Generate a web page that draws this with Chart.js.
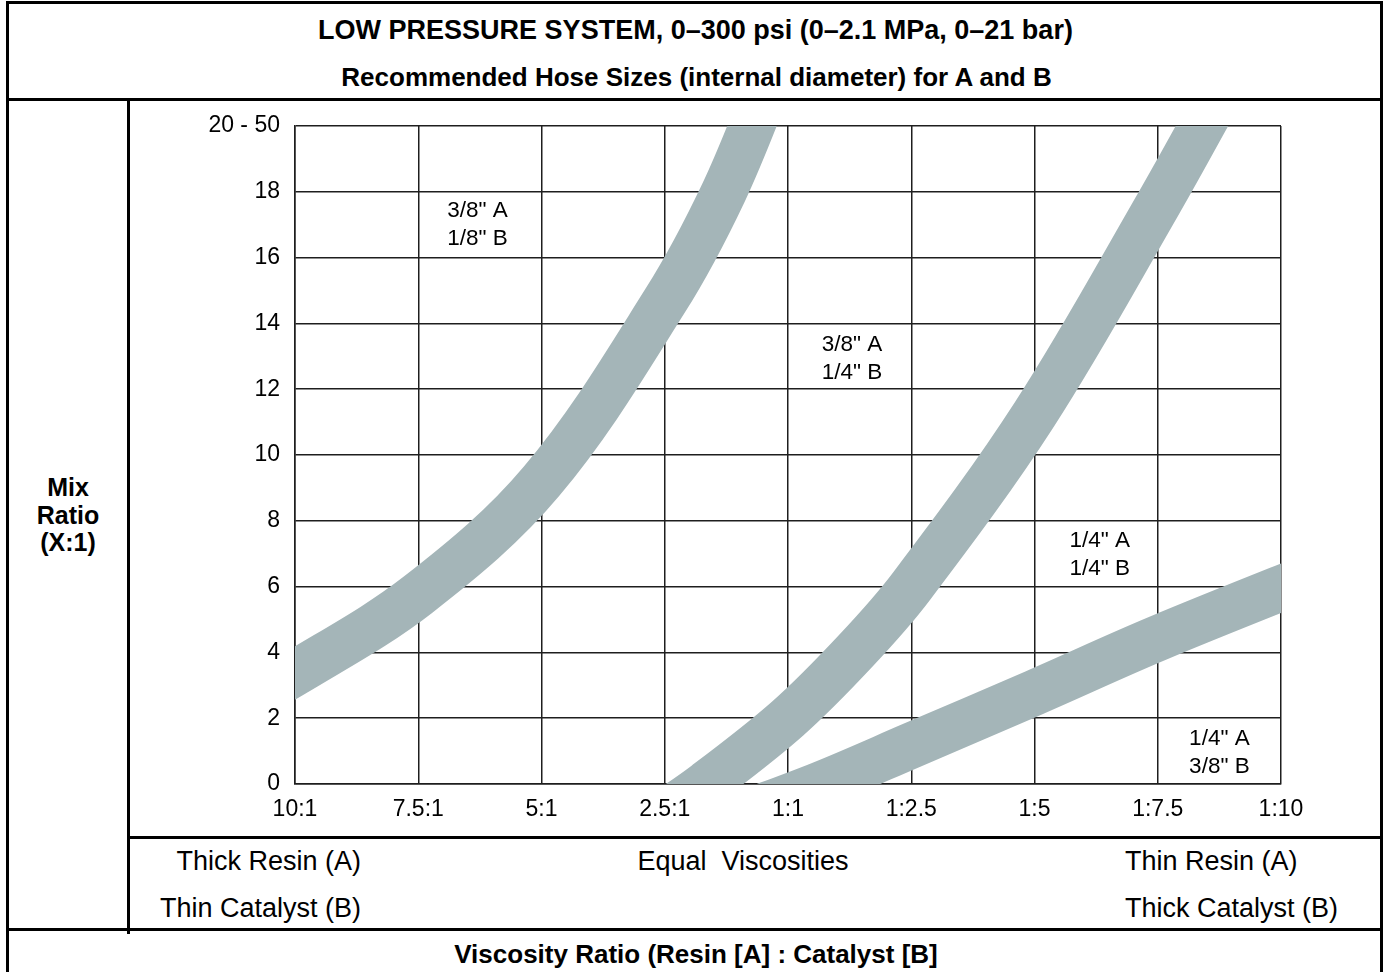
<!DOCTYPE html>
<html lang="en">
<head>
  <meta charset="UTF-8" />
  <title>Low Pressure System Hose Sizes</title>
  <script src="https://cdn.jsdelivr.net/npm/chart.js"></script>
  <style>
    body { margin: 0; background: #fff; font-family: "Liberation Sans", Arial, sans-serif; color: #000; overflow: hidden; }
    #page { position: relative; width: 1389px; height: 972px; }
    .line { position: absolute; background: #000; }
    .txt { position: absolute; white-space: pre; line-height: 30px; height: 30px; }
    .bold { font-weight: bold; }
    #chartBox { position: absolute; left: 140px; top: 106px; }
  </style>
</head>
<body>
<div id="page">
  <!-- frame -->
  <div class="line" style="left:6px; top:1px; width:1377px; height:3px;"></div>
  <div class="line" style="left:6px; top:1px; width:3px; height:980px;"></div>
  <div class="line" style="left:1380px; top:1px; width:3px; height:980px;"></div>
  <div class="line" style="left:6px; top:98px; width:1377px; height:3px;"></div>
  <div class="line" style="left:127px; top:98px; width:3px; height:836px;"></div>
  <div class="line" style="left:127px; top:836px; width:1256px; height:3px;"></div>
  <div class="line" style="left:6px; top:928px; width:1377px; height:3px;"></div>

  <div class="txt bold" style="left:0; width:1391px; top:15px; text-align:center; font-size:27px;">LOW PRESSURE SYSTEM, 0–300 psi (0–2.1 MPa, 0–21 bar)</div>
  <div class="txt bold" style="left:0; width:1393px; top:62px; text-align:center; font-size:26px;">Recommended Hose Sizes (internal diameter) for A and B</div>

  <div class="bold" style="position:absolute; left:9px; width:118px; top:474px; text-align:center; font-size:25px; line-height:27.5px;">Mix<br>Ratio<br>(X:1)</div>

  <div class="txt" style="left:0; width:361px; top:846px; text-align:right; font-size:27px;">Thick Resin (A)</div>
  <div class="txt" style="left:0; width:361px; top:893px; text-align:right; font-size:27px;">Thin Catalyst (B)</div>
  <div class="txt" style="left:543px; width:400px; top:846px; text-align:center; font-size:27px;">Equal  Viscosities</div>
  <div class="txt" style="left:1125px; top:846px; font-size:27px;">Thin Resin (A)</div>
  <div class="txt" style="left:1125px; top:893px; font-size:27px;">Thick Catalyst (B)</div>

  <div class="txt bold" style="left:0; width:1392px; top:939px; text-align:center; font-size:26px;">Viscosity Ratio (Resin [A] : Catalyst [B]</div>

  <div id="chartBox"><canvas id="hoseChart" width="1240" height="728"></canvas></div>
</div>

<script>
  // axis labels
  const xTickLabels = ['10:1', '7.5:1', '5:1', '2.5:1', '1:1', '1:2.5', '1:5', '1:7.5', '1:10'];
  const yTickLabels = ['0', '2', '4', '6', '8', '10', '12', '14', '16', '18', '20 - 50'];

  // band centre lines [x index, mix ratio]
  const bandLeft = [[-0.5, 2.35], [0, 3.37], [1, 5.76], [2, 9.2], [3, 14.67], [3.48, 18], [3.9, 21.8]];
  const bandMiddle = [[2.85, -1.25], [3.33, 0], [4.0, 2.0], [4.55, 4.05], [5.0, 6], [6.0, 11.24], [7.0, 17.6], [7.55, 21.3]];
  const bandRight = [[3.6, -0.95], [4.27, 0], [5, 1.17], [6, 2.78], [7, 4.43], [8.5, 6.7]];

  // zone labels [x index, mix ratio, line1, line2]
  const zoneLabels = [
    [1.48, 17.0, '3/8" A', '1/8" B'],
    [4.52, 12.93, '3/8" A', '1/4" B'],
    [6.53, 6.96, '1/4" A', '1/4" B'],
    [7.5, 0.94, '1/4" A', '3/8" B']
  ];

  const bandColor = '#a4b5b8';
  const gridColor = '#1e1e1e';
  const font = '"Liberation Sans", Arial, sans-serif';

  const toPts = arr => arr.map(p => ({ x: p[0], y: p[1] }));
  const band = arr => ({
    data: toPts(arr),
    borderColor: bandColor,
    borderWidth: 46,
    borderJoinStyle: 'round',
    pointRadius: 0,
    fill: false,
    tension: 0.35,
    capBezierPoints: false,
    clip: 0
  });

  const zonePlugin = {
    id: 'zones',
    afterDraw(chart) {
      const ctx = chart.ctx;
      const xs = chart.scales.x, ys = chart.scales.y;
      ctx.save();
      ctx.font = '22.5px ' + font;
      ctx.fillStyle = '#000';
      ctx.textAlign = 'center';
      ctx.textBaseline = 'middle';
      zoneLabels.forEach(z => {
        const px = xs.getPixelForValue(z[0]);
        const py = ys.getPixelForValue(z[1]);
        ctx.fillText(z[2], px, py - 14);
        ctx.fillText(z[3], px, py + 14);
      });
      ctx.restore();
    }
  };

  new Chart(document.getElementById('hoseChart'), {
    type: 'line',
    data: { datasets: [band(bandLeft), band(bandMiddle), band(bandRight)] },
    options: {
      responsive: false,
      animation: false,
      devicePixelRatio: 1,
      layout: { padding: { left: 0, right: 99, top: 20, bottom: 0 } },
      plugins: { legend: { display: false }, tooltip: { enabled: false } },
      scales: {
        x: {
          type: 'linear',
          min: 0, max: 8,
          z: 1,
          afterFit: s => { s.height = 50; s.paddingLeft = 0; s.paddingRight = 0; },
          afterBuildTicks: s => { s.ticks = xTickLabels.map((_, i) => ({ value: i })); },
          ticks: {
            callback: v => xTickLabels[v],
            font: { family: font, size: 23 },
            color: '#000',
            padding: 12,
            maxRotation: 0
          },
          grid: { color: gridColor, lineWidth: 1.5, drawTicks: false },
          border: { color: gridColor, width: 1.5 }
        },
        y: {
          type: 'linear',
          min: 0, max: 20,
          z: 1,
          afterFit: s => { s.width = 155; s.paddingTop = 0; s.paddingBottom = 0; },
          afterBuildTicks: s => { s.ticks = yTickLabels.map((_, i) => ({ value: i * 2 })); },
          ticks: {
            callback: v => yTickLabels[v / 2],
            font: { family: font, size: 23 },
            color: '#000',
            padding: 15
          },
          grid: { color: gridColor, lineWidth: 1.5, drawTicks: false },
          border: { color: gridColor, width: 1.5 }
        }
      }
    },
    plugins: [zonePlugin]
  });
</script>
</body>
</html>
